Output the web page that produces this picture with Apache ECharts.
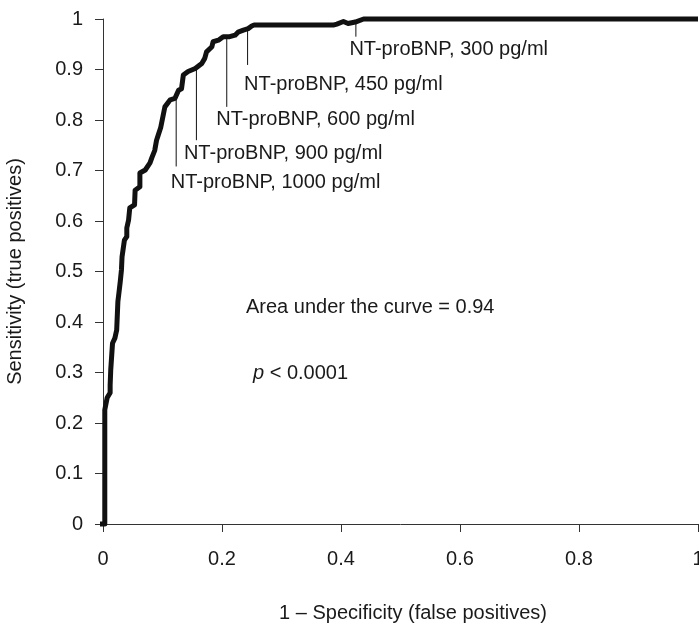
<!DOCTYPE html>
<html>
<head>
<meta charset="utf-8">
<script src="https://cdn.jsdelivr.net/npm/echarts@6/dist/echarts.min.js"></script>
<style>
html,body{margin:0;padding:0;background:#fff;overflow:hidden;}
#c{width:699px;height:628px;}
</style>
</head>
<body>
<div id="c"></div>
<script>
// ROC curve: 1 - specificity (x) and sensitivity (y)
var fpr = [-0.015, 0.003, 0.003, 0.007, 0.012, 0.012, 0.013, 0.016, 0.020, 0.023, 0.025, 0.027, 0.029, 0.031, 0.032, 0.036, 0.040, 0.040, 0.043, 0.045, 0.053, 0.054, 0.062, 0.062, 0.071, 0.079, 0.082, 0.087, 0.090, 0.092, 0.097, 0.104, 0.113, 0.121, 0.127, 0.132, 0.135, 0.143, 0.155, 0.166, 0.171, 0.174, 0.183, 0.185, 0.194, 0.202, 0.213, 0.222, 0.227, 0.236, 0.244, 0.250, 0.254, 0.387, 0.393, 0.404, 0.412, 0.424, 0.438, 1.0];
var tpr = [0, 0, 0.226, 0.250, 0.260, 0.275, 0.305, 0.358, 0.368, 0.384, 0.440, 0.460, 0.480, 0.503, 0.529, 0.562, 0.569, 0.586, 0.602, 0.626, 0.632, 0.661, 0.668, 0.695, 0.701, 0.715, 0.725, 0.740, 0.760, 0.767, 0.785, 0.826, 0.840, 0.843, 0.859, 0.862, 0.889, 0.896, 0.902, 0.912, 0.922, 0.935, 0.945, 0.955, 0.958, 0.965, 0.965, 0.968, 0.974, 0.978, 0.981, 0.986, 0.988, 0.988, 0.990, 0.995, 0.991, 0.994, 1.0, 1.0];

// cut-off annotations
var cutLabels = ['NT-proBNP, 300 pg/ml', 'NT-proBNP, 450 pg/ml', 'NT-proBNP, 600 pg/ml', 'NT-proBNP, 900 pg/ml', 'NT-proBNP, 1000 pg/ml'];
var cutX = [0.425, 0.243, 0.208, 0.157, 0.123];
var cutYTop = [0.994, 0.981, 0.964, 0.904, 0.852];
var cutYBottom = [0.965, 0.909, 0.826, 0.760, 0.708];

var xTicks = ['0', '0.2', '0.4', '0.6', '0.8', '1'];
var yTicks = ['0', '0.1', '0.2', '0.3', '0.4', '0.5', '0.6', '0.7', '0.8', '0.9', '1'];

var aucText = 'Area under the curve = 0.94';
var pText = '< 0.0001';

// label offsets (styling)
var labelOffsets = [[-6, 3], [-3, 10], [-10, 3], [-12, 4], [-5, 7]];

var FONT = '"Liberation Sans", Arial, Helvetica, sans-serif';
var FS = 20;
var TXT = '#1a1a1a';

var curve = fpr.map(function (x, i) { return [x, tpr[i]]; });

var series = [{
  type: 'line',
  data: curve,
  showSymbol: false,
  symbol: 'none',
  clip: false,
  lineStyle: { color: '#111', width: 5, join: 'round', cap: 'butt' },
  z: 3,
  silent: true
}];

cutLabels.forEach(function (lab, i) {
  series.push({
    type: 'line',
    data: [[cutX[i], cutYTop[i]], { value: [cutX[i], cutYBottom[i]], label: {
      show: true, formatter: lab, position: labelOffsets[i], align: 'left', verticalAlign: 'top',
      fontFamily: FONT, fontSize: FS, color: TXT
    } }],
    symbol: 'circle',
    symbolSize: 1,
    showSymbol: true,
    itemStyle: { color: 'rgba(0,0,0,0)', borderWidth: 0 },
    lineStyle: { color: '#111', width: 1 },
    label: { show: false },
    labelLayout: { hideOverlap: false },
    z: 2,
    silent: true
  });
});

var chart = echarts.init(document.getElementById('c'), null, { renderer: 'canvas' });
chart.setOption({
  animation: false,
  backgroundColor: '#fff',
  grid: { left: 103, right: 1, top: 19, bottom: 104, containLabel: false, outerBoundsMode: 'none' },
  xAxis: {
    type: 'value', min: 0, max: 1, interval: 0.2,
    name: '1 \u2013 Specificity (false positives)',
    nameLocation: 'middle', nameGap: 79,
    nameTextStyle: { fontFamily: FONT, fontSize: FS, color: TXT, padding: [0, 0, 0, 25] },
    axisLine: { show: true, lineStyle: { color: '#333', width: 1 } },
    axisTick: { show: true, inside: false, length: 8, lineStyle: { color: '#333' } },
    axisLabel: { margin: 25, fontFamily: FONT, fontSize: FS, color: TXT, showMaxLabel: true, hideOverlap: false,
      formatter: function (v) { return xTicks[Math.round(v / 0.2)]; } },
    splitLine: { show: false }
  },
  yAxis: {
    type: 'value', min: 0, max: 1, interval: 0.1,
    name: 'Sensitivity (true positives)',
    nameLocation: 'middle', nameGap: 78,
    nameTextStyle: { fontFamily: FONT, fontSize: FS, color: TXT },
    axisLine: { show: true, lineStyle: { color: '#333', width: 1 } },
    axisTick: { show: true, inside: false, length: 8, lineStyle: { color: '#333' } },
    axisLabel: { margin: 20, fontFamily: FONT, fontSize: FS, color: TXT,
      formatter: function (v) { return yTicks[Math.round(v / 0.1)]; } },
    splitLine: { show: false }
  },
  graphic: [
    { type: 'text', left: 246, top: 297, style: { text: aucText, font: FS + 'px ' + FONT, fill: TXT } },
    { type: 'text', left: 253, top: 363, style: {
      text: '{i|p} ' + pText,
      rich: { i: { fontStyle: 'italic', fontFamily: FONT, fontSize: FS, fill: TXT, color: TXT } },
      font: FS + 'px ' + FONT, fill: TXT } }
  ],
  series: series
});
</script>
</body>
</html>
